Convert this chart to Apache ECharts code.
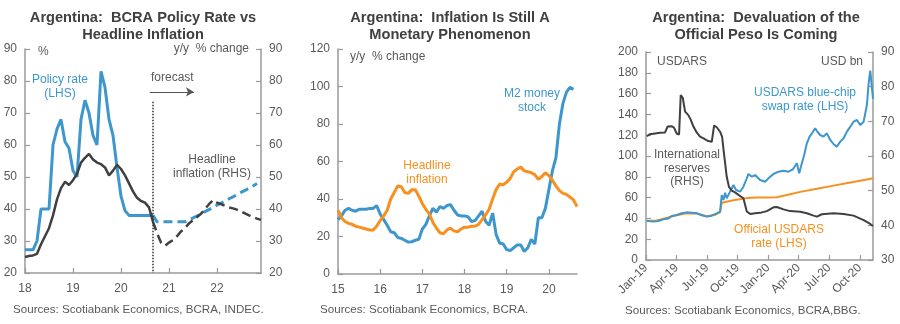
<!DOCTYPE html>
<html>
<head>
<meta charset="utf-8">
<script src="https://cdn.jsdelivr.net/npm/echarts@6/dist/echarts.min.js"></script>
<style>
html,body{margin:0;padding:0;background:#fff;}
#c{width:900px;height:324px;}
</style>
</head>
<body>
<div id="c"></div>
<script>
// ---------- Panel 1: BCRA policy rate vs headline inflation (monthly from Jan-2018) ----------
const p1YearTicks = [18, 19, 20, 21, 22];
const p1PolicyActual = [27.25,27.25,27.25,30,40,40,40,60,65,68,61,59,52,50,68,74,70,63,60,83,78,68,63,53,44,39.5,38,38,38,38,38,38,38];
const p1InflActual = [25,25.3,25.5,26,29,31.5,34,38,43,46.5,48.5,47.5,49,51,54.5,56,57.2,55.5,54.5,54,53,50.5,52,53.8,52.5,50.5,48,45.5,43.5,42.5,42,40.5,36];
// forecast starts at month index 32
const p1PolicyFcst = [38,36,36,36,36,36,36,36,36,36.5,37.2,37.8,38.5,39.2,39.8,40.5,41.2,41.8,42.5,43.2,43.8,44.5,45.2,45.8,46.5,47.2,48];
const p1InflFcst = [36,32.5,29.5,28.5,29.5,30.3,31.5,33,34,35.5,36.5,37.5,38.5,40,41.5,42.8,42,41.5,41,40.5,40.2,39.8,39.2,38.6,38,37.5,37,36.6];
const p1FcstStart = 32;

// ---------- Panel 2: M2 vs headline inflation (monthly from Jan-2015) ----------
const p2YearTicks = [15, 16, 17, 18, 19, 20];
const p2M2 = [29,31,34,35,34,33.5,34.5,34.5,34.5,35,35,36.5,32,29,26,22.5,22,19.5,19,18,17,17.2,18,18.5,24,26.5,31,35,33,36,35,36.5,37,34,31.5,31,31,30.5,28,28.5,31,33.5,28,26,32.5,21,16.5,16,13,12.5,14,15.5,15.5,12,14,18.5,16,30,30,35,45,55,62,80,91,97,99.5,98.5];
const p2Infl = [34,30,28,27,26.5,25.5,25,24.5,24,23.5,23.5,25.5,28.5,31,34,40,43.5,47,46.5,43.5,43,45,45,41.5,37.5,34.5,32,27.5,24.5,22,21.5,23.5,24.5,23,22.5,24,25,25,25.5,25.5,26.5,29,31.5,34.5,40,45,48,47.5,49,51,54.5,56,57,55,54.5,54,53,50.5,52,54,52.5,50,47,44.5,43,42.5,41,39.5,36];

// ---------- Panel 3: USDARS (months since Jan-2019) ----------
const p3TickMonths = [0, 3, 6, 9, 12, 15, 18, 21];
const p3TickLabels = ['Jan-19','Apr-19','Jul-19','Oct-19','Jan-20','Apr-20','Jul-20','Oct-20'];
const p3BlueX = [0.07,0.72,1.21,1.70,2.20,2.52,3.02,3.51,4.00,4.49,4.98,5.48,5.97,6.46,6.95,7.28,7.44,7.61,7.77,7.93,8.26,8.59,8.85,9.25,9.57,9.90,10.07,10.39,10.72,11.21,11.70,12.03,12.52,13.02,13.51,14.0,14.43,14.82,15.05,15.31,15.54,15.80,16.07,16.30,16.62,16.79,17.11,17.44,17.77,18.10,18.43,18.75,19.08,19.41,19.74,20.07,20.39,20.72,21.05,21.38,21.70,21.87,22.03,22.2,22.3];
const p3BlueY = [37.8,36.9,37.5,39.1,40,42.3,43.3,44.9,45.8,45.5,44.9,43,41.7,42.6,44.9,46.5,62.5,57.7,64.7,59.3,65.7,72.1,67.3,65.7,70.5,78.5,82.7,80.1,81.7,76.9,75.3,78.5,82.7,84.9,85.9,84.9,87.2,93,83.3,93,101,112.2,118.6,121.8,126.6,124,120.2,118.6,121.8,115.4,111.3,109,113.8,117,123.4,128.2,133,134.6,129.8,133,149,169.9,182,165,155];
const p3OffX = [0.07,1.05,2.03,3.02,4.0,4.98,5.97,6.79,7.28,7.44,8.59,9.90,10.89,11.87,12.85,13.84,15.15,16.79,18.43,20.07,21.70,22.3];
const p3OffY = [37.5,38,40.5,43,45,44.8,42,43.5,46,55,57.5,59.5,60,60,60.3,62.5,65.5,68.5,71.5,74.5,77.5,78.5];
const p3ResX = [0.07,0.39,0.89,1.38,1.87,2.13,2.52,2.75,3.02,3.25,3.41,3.61,3.84,4.16,4.39,4.66,4.98,5.31,5.70,6.03,6.46,6.56,6.69,6.95,7.28,7.48,7.61,7.77,7.93,8.16,8.43,8.75,9.08,9.57,9.74,9.90,10.23,10.72,11.21,11.87,12.52,12.85,13.51,14.16,15.15,15.80,16.46,16.79,17.28,18.43,19.41,20.39,21.38,22.03,22.3];
const p3ResY = [65.7,66.3,66.5,66.7,66.8,68.5,68.6,68.2,66.5,66.2,77.6,76.8,72.8,71.8,70.5,68.5,66.8,65.6,65,64.4,64.1,64.0,68.8,68.3,67,65.5,62,58,54,51,50,49.5,48.8,47.8,47.5,44,43.3,43.5,43.6,44.1,45.2,45.3,44.6,44.1,43.9,43.5,42.8,42.5,43.2,43.5,43.3,42.8,41.5,40.4,39.8];

// ---------- build ----------
const BLUE = '#3d97cc', ORANGE = '#f7901e', DARK = '#404040', TXT = '#595959', AX = '#9a9a9a';
const FONT = '"Liberation Sans", Arial, sans-serif';

const monthly = (arr, base, start) => arr.map((v, i) => [base + (start + i) / 12, v]);
const pairs = (xs, ys) => xs.map((x, i) => [x, ys[i]]);

const axisCommon = {
  axisLine: {show: true, lineStyle: {color: AX, width: 1.5}},
  axisTick: {show: true, inside: true, length: 5, lineStyle: {color: AX, width: 1.2}},
  splitLine: {show: false},
  axisLabel: {color: TXT, fontSize: 12, fontFamily: FONT}
};
function yAx(gridIndex, min, max, interval, position, extra) {
  return Object.assign({}, axisCommon, {type: 'value', gridIndex, min, max, interval, position,
    axisLabel: Object.assign({}, axisCommon.axisLabel, {margin: 8})}, extra || {});
}

const chart = echarts.init(document.getElementById('c'), null, {renderer: 'canvas'});

function txt(x, y, text, color, align, lh, size) {
  return {type: 'text', x, y, silent: true,
    style: {text, fill: color, font: (size || 12) + 'px ' + FONT, align: align || 'left', verticalAlign: 'top', lineHeight: lh || 14}};
}
function title(x, y, text) {
  return {type: 'text', x, y, silent: true,
    style: {text, fill: DARK, font: 'bold 14.6px ' + FONT, align: 'center', verticalAlign: 'top', lineHeight: 17}};
}

const option = {
  backgroundColor: '#fff',
  animation: false,
  textStyle: {fontFamily: FONT},
  grid: [
    {left: 25, right: 639, top: 49, bottom: 51},
    {left: 338, right: 323, top: 49, bottom: 50},
    {left: 646, right: 27, top: 52, bottom: 64}
  ],
  xAxis: [
    Object.assign({}, axisCommon, {type: 'value', gridIndex: 0, min: 18, max: 18 + 59 / 12, interval: 1,
      axisTick: Object.assign({}, axisCommon.axisTick, {customValues: p1YearTicks}),
      axisLabel: Object.assign({}, axisCommon.axisLabel, {customValues: p1YearTicks, margin: 10})}),
    Object.assign({}, axisCommon, {type: 'value', gridIndex: 1, min: 15, max: 15 + 68 / 12, interval: 1,
      axisTick: Object.assign({}, axisCommon.axisTick, {customValues: p2YearTicks}),
      axisLabel: Object.assign({}, axisCommon.axisLabel, {customValues: p2YearTicks, margin: 10})}),
    Object.assign({}, axisCommon, {type: 'value', gridIndex: 2, min: 0, max: 22.3, interval: 3,
      axisTick: Object.assign({}, axisCommon.axisTick, {customValues: p3TickMonths}),
      axisLabel: Object.assign({}, axisCommon.axisLabel, {customValues: p3TickMonths, rotate: 45, margin: 6,
        formatter: v => p3TickLabels[p3TickMonths.indexOf(Math.round(v))] || ''})})
  ],
  yAxis: [
    yAx(0, 20, 90, 10, 'left'),
    yAx(0, 20, 90, 10, 'right'),
    yAx(1, 0, 120, 20, 'left'),
    yAx(2, 0, 200, 20, 'left'),
    yAx(2, 30, 90, 10, 'right')
  ],
  series: [
    {type: 'line', xAxisIndex: 0, yAxisIndex: 0, data: monthly(p1PolicyActual, 18, 0), showSymbol: false,
      lineStyle: {color: BLUE, width: 3}, z: 3},
    {type: 'line', xAxisIndex: 0, yAxisIndex: 1, data: monthly(p1InflActual, 18, 0), showSymbol: false,
      lineStyle: {color: DARK, width: 2.5}, z: 4,
      markLine: {silent: true, symbol: ['none', 'none'], label: {show: false},
        lineStyle: {color: '#333', type: 'dotted', width: 1.5},
        data: [[{coord: [18 + 31.9 / 12, 73.5]}, {coord: [18 + 31.9 / 12, 20]}]]}},
    {type: 'line', xAxisIndex: 0, yAxisIndex: 0, data: monthly(p1PolicyFcst, 18, p1FcstStart), showSymbol: false,
      lineStyle: {color: BLUE, width: 3, type: [9, 5]}, z: 3},
    {type: 'line', xAxisIndex: 0, yAxisIndex: 1, data: monthly(p1InflFcst, 18, p1FcstStart), showSymbol: false,
      lineStyle: {color: DARK, width: 2.5, type: [9, 5]}, z: 4,
      markLine: {silent: true, symbol: ['none', 'arrow'], symbolSize: [7, 8], label: {show: false},
        lineStyle: {color: '#555', type: 'solid', width: 1},
        data: [[{coord: [20.6, 76.6]}, {coord: [21.52, 76.6]}]]}},

    {type: 'line', xAxisIndex: 1, yAxisIndex: 2, data: monthly(p2M2, 15, 0), showSymbol: false,
      lineStyle: {color: BLUE, width: 3}, z: 3},
    {type: 'line', xAxisIndex: 1, yAxisIndex: 2, data: monthly(p2Infl, 15, 0), showSymbol: false,
      lineStyle: {color: ORANGE, width: 3}, z: 4},

    {type: 'line', xAxisIndex: 2, yAxisIndex: 3, data: pairs(p3OffX, p3OffY), showSymbol: false,
      lineStyle: {color: ORANGE, width: 2}, z: 3},
    {type: 'line', xAxisIndex: 2, yAxisIndex: 3, data: pairs(p3BlueX, p3BlueY), showSymbol: false,
      lineStyle: {color: BLUE, width: 2}, z: 4},
    {type: 'line', xAxisIndex: 2, yAxisIndex: 4, data: pairs(p3ResX, p3ResY), showSymbol: false,
      lineStyle: {color: DARK, width: 2}, z: 5}
  ],
  graphic: [
    title(143, 9, 'Argentina:  BCRA Policy Rate vs\nHeadline Inflation'),
    title(450, 9, 'Argentina:  Inflation Is Still A\nMonetary Phenomenon'),
    title(756, 9, 'Argentina:  Devaluation of the\nOfficial Peso Is Coming'),
    txt(38, 45, '%', TXT),
    txt(249, 42, 'y/y  % change', TXT, 'right'),
    txt(60, 73, 'Policy rate\n(LHS)', BLUE, 'center'),
    txt(151, 71, 'forecast', TXT),
    txt(212, 153, 'Headline\ninflation (RHS)', TXT, 'center'),
    txt(350, 50, 'y/y  % change', TXT),
    txt(532, 87, 'M2 money\nstock', BLUE, 'center'),
    txt(427, 159, 'Headline\ninflation', ORANGE, 'center'),
    txt(657, 55, 'USDARS', TXT),
    txt(863, 55, 'USD bn', TXT, 'right'),
    txt(805, 86, 'USDARS blue-chip\nswap rate (LHS)', BLUE, 'center'),
    txt(687, 148, 'International\nreserves\n(RHS)', TXT, 'center', 13.5),
    txt(779, 223, 'Official USDARS\nrate (LHS)', ORANGE, 'center'),
    txt(13, 303, 'Sources: Scotiabank Economics, BCRA, INDEC.', TXT, 'left', 14, 11.6),
    txt(320, 303, 'Sources: Scotiabank Economics, BCRA.', TXT, 'left', 14, 11.6),
    txt(625, 304, 'Sources: Scotiabank Economics, BCRA,BBG.', TXT, 'left', 14, 11.6)
  ]
};
chart.setOption(option);
</script>
</body>
</html>
